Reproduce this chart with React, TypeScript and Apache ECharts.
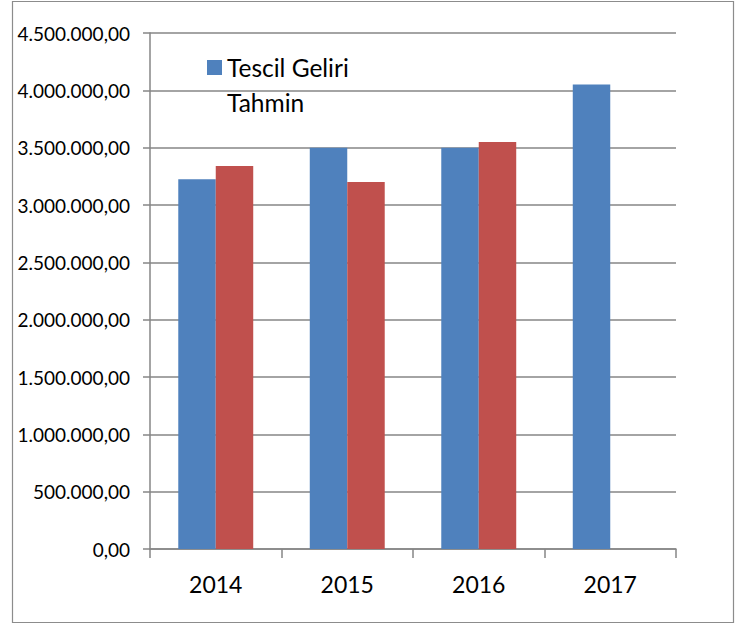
import React, { useEffect, useRef } from "react";
import * as echarts from "echarts";

const categories = ["2014", "2015", "2016", "2017"];
const tescilGeliri = [3225000, 3500000, 3500000, 4050000];
const tahmin: (number | null)[] = [3340000, 3200000, 3550000, null];

function formatTR(v: number): string {
  const fixed = Math.abs(v).toFixed(2);
  const [intPart, dec] = fixed.split(".");
  const withDots = intPart.replace(/\B(?=(\d{3})+(?!\d))/g, ".");
  return (v < 0 ? "-" : "") + withDots + "," + dec;
}

export default function App() {
  const ref = useRef<HTMLDivElement>(null);
  useEffect(() => {
    if (!ref.current) return;
    const chart = echarts.init(ref.current, null, { renderer: "svg" });
    const font = "Lato, 'Open Sans', sans-serif";
    chart.setOption({
      animation: false,
      backgroundColor: "#ffffff",
      textStyle: { fontFamily: font },
      graphic: [
        {
          type: "rect",
          shape: { x: 12.5, y: 1.5, width: 721, height: 621 },
          style: { fill: "none", stroke: "#8c8c8c", lineWidth: 1.2 },
          silent: true,
          z: 0,
        },
      ],
      legend: {
        orient: "vertical",
        left: 202,
        top: 50,
        itemWidth: 15,
        itemHeight: 15,
        itemGap: 10,
        textStyle: { fontFamily: font, fontSize: 24.5, color: "#000", lineHeight: 25 },
        data: [
          { name: "Tescil Geliri", icon: "rect" },
          { name: "Tahmin", icon: "none" },
        ],
        selectedMode: false,
      },
      grid: { left: 150, top: 33, right: 63, bottom: 76, containLabel: false },
      xAxis: {
        type: "category",
        data: categories,
        axisLine: { show: true, lineStyle: { color: "#868686", width: 1.5 } },
        axisTick: { show: true, length: 9, interval: 0, alignWithLabel: false, lineStyle: { color: "#868686", width: 1.5 } },
        axisLabel: { fontFamily: font, fontSize: 23, color: "#000", margin: 23 },
        splitLine: { show: false },
      },
      yAxis: {
        type: "value",
        min: 0,
        max: 4500000,
        interval: 500000,
        axisLine: { show: true, lineStyle: { color: "#868686", width: 1.5 } },
        axisTick: { show: true, length: 7, lineStyle: { color: "#868686", width: 1.5 } },
        axisLabel: { fontFamily: font, fontSize: 19, color: "#000", margin: 20, formatter: (v: number) => formatTR(v) },
        splitLine: { show: true, lineStyle: { color: "#868686", width: 1.5 } },
      },
      series: [
        {
          name: "Tescil Geliri",
          type: "bar",
          data: tescilGeliri,
          itemStyle: { color: "#4F81BD" },
          barGap: "0%",
          barCategoryGap: "43%",
        },
        {
          name: "Tahmin",
          type: "bar",
          data: tahmin,
          itemStyle: { color: "#C0504D" },
          barGap: "0%",
          barCategoryGap: "43%",
        },
      ],
    });
    return () => chart.dispose();
  }, []);
  return (
    <div
      ref={ref}
      style={{ position: "absolute", left: 0, top: 0, width: 739, height: 625 }}
    />
  );
}
